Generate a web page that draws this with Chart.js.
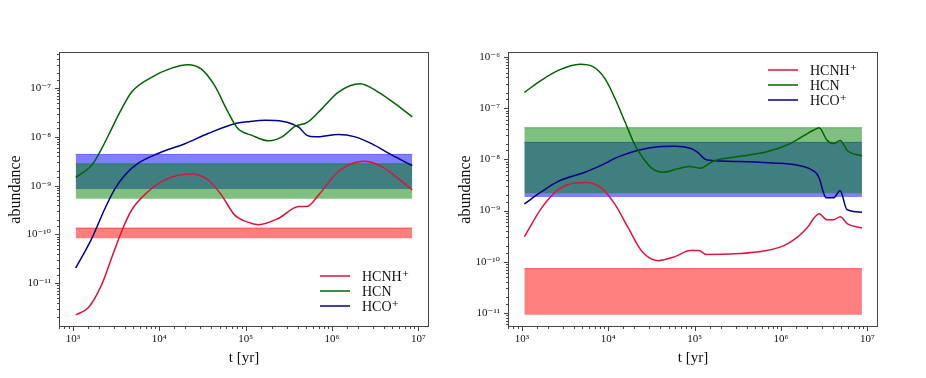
<!DOCTYPE html>
<html>
<head>
<meta charset="utf-8">
<script src="https://cdn.jsdelivr.net/npm/chart.js@4"></script>
<style>
body { margin: 0; background: #fff; width: 926px; height: 378px; position: relative; overflow: hidden; }
canvas { position: absolute; top: 0; }
</style>
</head>
<body>
<canvas id="leftPanel" width="450" height="378" style="left:0"></canvas>
<canvas id="rightPanel" width="476" height="378" style="left:450px"></canvas>
<script>
// species names (legend order)
const species = ['HCNH⁺', 'HCN', 'HCO⁺'];

// ---- left panel ----
const leftTimeHCNH = [1.08e3, 1.52e3, 2.16e3, 2.82e3, 3.67e3, 4.8e3, 7.46e3, 1.27e4, 2.36e4, 3.67e4, 5.24e4, 7.46e4, 1.06e5, 1.42e5, 2.42e5, 4.12e5, 5.14e5, 7.02e5, 1.19e6, 2.32e6, 3.77e6, 8.51e6];
const leftHCNH = [2.24e-12, 3.16e-12, 9.3e-12, 3.31e-11, 1.15e-10, 3.16e-10, 7.59e-10, 1.41e-9, 1.74e-9, 1.32e-9, 6.46e-10, 2.51e-10, 1.78e-10, 1.58e-10, 2.14e-10, 3.72e-10, 3.72e-10, 6.46e-10, 1.95e-9, 3.16e-9, 2.45e-9, 8.13e-10];
const leftTimeHCN = [1.08e3, 1.66e3, 2.16e3, 2.82e3, 3.52e3, 4.8e3, 8.15e3, 1.39e4, 2.16e4, 3.08e4, 4.39e4, 6.25e4, 8.15e4, 1.19e5, 1.86e5, 2.64e5, 3.78e5, 5.14e5, 7.66e5, 1.19e6, 2.12e6, 3.44e6, 5.37e6, 8.51e6];
const leftHCN = [1.48e-9, 2.63e-9, 5.75e-9, 1.48e-8, 3.24e-8, 8.3e-8, 1.66e-7, 2.57e-7, 3.02e-7, 2.45e-7, 1.12e-7, 3.24e-8, 1.48e-8, 1.07e-8, 8.3e-9, 1.0e-8, 1.66e-8, 1.95e-8, 3.8e-8, 8.3e-8, 1.23e-7, 8.3e-8, 4.8e-8, 2.57e-8];
const leftTimeHCO = [1.08e3, 1.66e3, 2.37e3, 3.08e3, 4.02e3, 5.73e3, 9.73e3, 1.98e4, 3.67e4, 7.46e4, 1.06e5, 1.70e5, 2.64e5, 4.12e5, 5.14e5, 6.41e5, 1.19e6, 1.86e6, 2.88e6, 4.91e6, 8.51e6];
const leftHCO = [2.04e-11, 8.3e-11, 3.47e-10, 8.7e-10, 1.66e-9, 2.88e-9, 4.57e-9, 7.24e-9, 1.17e-8, 1.86e-8, 2.04e-8, 2.19e-8, 2.09e-8, 1.58e-8, 1.07e-8, 1.0e-8, 1.12e-8, 1.0e-8, 7.24e-9, 4.27e-9, 2.57e-9];
// observed ranges [low, high]
const leftBandTime = [1.08e3, 8.51e6];
const leftBandHCNH = [8.3e-11, 1.35e-10];
const leftBandHCN = [5.4e-10, 2.8e-9];
const leftBandHCO = [8.5e-10, 4.37e-9];

// ---- right panel ----
const rightTimeHCNH = [1.07e3, 1.69e3, 2.64e3, 4.13e3, 5.62e3, 8.39e3, 1.20e4, 1.71e4, 2.44e4, 3.80e4, 5.93e4, 8.91e4, 1.11e5, 1.39e5, 3.38e5, 6.3e5, 1.07e6, 1.53e6, 2.0e6, 2.77e6, 3.40e6, 4.06e6, 4.85e6, 5.90e6, 8.67e6];
const rightHCNH = [3.09e-10, 1.12e-9, 2.57e-9, 3.47e-9, 3.55e-9, 2.75e-9, 1.32e-9, 4.57e-10, 1.62e-10, 1.05e-10, 1.26e-10, 1.66e-10, 1.66e-10, 1.38e-10, 1.45e-10, 1.62e-10, 2.04e-10, 2.95e-10, 4.57e-10, 8.71e-10, 6.61e-10, 6.61e-10, 7.59e-10, 5.5e-10, 4.57e-10];
const rightTimeHCN = [1.07e3, 1.69e3, 2.64e3, 4.72e3, 6.73e3, 9.18e3, 1.20e4, 1.56e4, 2.04e4, 2.55e4, 3.18e4, 4.35e4, 6.47e4, 8.91e4, 1.16e5, 1.66e5, 3.38e5, 6.89e5, 1.28e6, 1.91e6, 2.38e6, 2.77e6, 3.40e6, 4.06e6, 4.85e6, 5.90e6, 8.67e6];
const rightHCN = [2.04e-7, 3.55e-7, 5.5e-7, 7.24e-7, 6.46e-7, 3.8e-7, 1.55e-7, 5.5e-8, 1.91e-8, 1.05e-8, 6.76e-9, 5.62e-9, 6.61e-9, 7.24e-9, 6.76e-9, 9.33e-9, 1.15e-8, 1.41e-8, 2.04e-8, 3.02e-8, 3.72e-8, 4.17e-8, 2.4e-8, 2.04e-8, 2.34e-8, 1.48e-8, 1.17e-8];
const rightTimeHCO = [1.07e3, 1.69e3, 2.64e3, 5.38e3, 8.39e3, 1.31e4, 2.23e4, 3.80e4, 5.93e4, 8.91e4, 1.07e5, 1.39e5, 3.38e5, 8.2e5, 1.53e6, 2.08e6, 2.72e6, 3.34e6, 4.06e6, 4.85e6, 5.81e6, 8.67e6];
const rightHCO = [1.35e-9, 2.34e-9, 3.72e-9, 5.62e-9, 7.76e-9, 1.12e-8, 1.51e-8, 1.78e-8, 1.82e-8, 1.66e-8, 1.41e-8, 9.77e-9, 9.12e-9, 8.51e-9, 7.76e-9, 6.76e-9, 4.68e-9, 1.78e-9, 1.78e-9, 2.45e-9, 1.05e-9, 9.33e-10];
const rightBandTime = [1.07e3, 8.67e6];
const rightBandHCNH = [9.25e-12, 7.35e-11];
const rightBandHCN = [2.19e-9, 4.17e-8];
const rightBandHCO = [1.84e-9, 2.16e-8];

const lineColors = ['#dc143c', '#006400', '#00008b'];
const bandColors = ['rgba(255,0,0,0.5)', 'rgba(0,128,0,0.5)', 'rgba(0,0,255,0.5)'];
const serif = "'Liberation Serif', 'DejaVu Serif', serif";

Chart.defaults.font.family = serif;
Chart.defaults.color = '#111';

const supMap = {'-': '⁻', '0': '⁰', '1': '¹', '2': '²', '3': '³', '4': '⁴', '5': '⁵', '6': '⁶', '7': '⁷', '8': '⁸', '9': '⁹'};
function isPow10(v) {
    const l = Math.log10(v);
    return Math.abs(l - Math.round(l)) < 1e-6;
}
function powLabel(v) {
    if (!isPow10(v)) return '';
    return '10' + String(Math.round(Math.log10(v))).split('').map(c => supMap[c]).join('');
}
const pairs = (xs, ys) => xs.map((x, i) => ({x: x, y: ys[i]}));

// matplotlib-like frame and outward ticks
const frameTicks = {
    id: 'frameTicks',
    afterDraw(chart) {
        const {ctx, chartArea: a} = chart;
        const xs = chart.scales.x, ys = chart.scales.y;
        ctx.save();
        ctx.strokeStyle = '#444';
        ctx.lineWidth = 1;
        xs.ticks.forEach(t => {
            if (t.value <= xs.min || t.value >= xs.max) return;
            const px = Math.round(xs.getPixelForValue(t.value)) + 0.5;
            ctx.beginPath();
            ctx.moveTo(px, a.bottom);
            ctx.lineTo(px, a.bottom + (isPow10(t.value) ? 4 : 2));
            ctx.stroke();
        });
        ys.ticks.forEach(t => {
            if (t.value <= ys.min || t.value >= ys.max) return;
            const py = Math.round(ys.getPixelForValue(t.value)) + 0.5;
            ctx.beginPath();
            ctx.moveTo(a.left, py);
            ctx.lineTo(a.left - (isPow10(t.value) ? 4 : 2), py);
            ctx.stroke();
        });
        ctx.strokeRect(Math.round(a.left) + 0.5, Math.round(a.top) + 0.5, Math.round(a.right - a.left) - 1, Math.round(a.bottom - a.top) - 1);
        ctx.restore();
    }
};

// legend drawn inside the axes
const lineKey = {
    id: 'lineKey',
    afterDraw(chart, args, opts) {
        const {ctx, chartArea: a} = chart;
        const x0 = a.right + opts.dx;
        const y0 = (opts.corner === 'top' ? a.top : a.bottom) + opts.dy;
        ctx.save();
        ctx.font = '14px ' + serif;
        ctx.textBaseline = 'middle';
        chart.data.datasets.filter(d => !d.band).forEach((d, i) => {
            const y = y0 + i * 15;
            ctx.strokeStyle = d.borderColor;
            ctx.lineWidth = 1.5;
            ctx.beginPath();
            ctx.moveTo(x0, y);
            ctx.lineTo(x0 + 30, y);
            ctx.stroke();
            ctx.fillStyle = '#111';
            ctx.fillText(d.label, x0 + 42, y + 1);
        });
        ctx.restore();
    }
};

function makePanel(id, cfg) {
    const lines = cfg.series.map((s, i) => ({
        label: species[i],
        data: pairs(s[0], s[1]),
        borderColor: lineColors[i],
        borderWidth: 1.5,
        pointRadius: 0,
        cubicInterpolationMode: 'monotone',
        fill: false
    }));
    // green band drawn over blue band, red separate
    const bandOrder = [1, 2, 0];
    const bands = bandOrder.map(i => ({
        label: species[i] + ' obs',
        band: true,
        data: pairs(cfg.bandTime, [cfg.bands[i][1], cfg.bands[i][1]]),
        borderColor: bandColors[i],
        borderWidth: 1,
        backgroundColor: bandColors[i],
        pointRadius: 0,
        fill: {target: {value: cfg.bands[i][0]}, above: bandColors[i], below: bandColors[i]}
    }));
    new Chart(document.getElementById(id), {
        type: 'line',
        data: {datasets: lines.concat(bands)},
        plugins: [frameTicks, lineKey],
        options: {
            responsive: false,
            animation: false,
            devicePixelRatio: 1,
            layout: {padding: {left: 0, top: 52, right: cfg.padRight, bottom: 0}},
            plugins: {
                legend: {display: false},
                tooltip: {enabled: false},
                lineKey: cfg.key
            },
            scales: {
                x: {
                    type: 'logarithmic',
                    min: 692, max: 1.33e7,
                    afterFit: s => { s.height = 51; },
                    grid: {display: false, drawTicks: true, tickLength: 4},
                    border: {display: false},
                    ticks: {autoSkip: false, maxRotation: 0, padding: 2, font: {size: 11}, callback: v => powLabel(v)},
                    title: {display: true, text: 't [yr]', font: {size: 15}, padding: {top: 0, bottom: 11}}
                },
                y: {
                    type: 'logarithmic',
                    min: cfg.yMin, max: cfg.yMax,
                    afterFit: s => { s.width = cfg.yWidth; },
                    grid: {display: false, drawTicks: true, tickLength: 4},
                    border: {display: false},
                    ticks: {autoSkip: false, padding: 4, font: {size: 11}, callback: v => powLabel(v)},
                    title: {display: true, text: 'abundance', font: {size: 16}, padding: {top: 6, bottom: 0}}
                }
            }
        }
    });
}

makePanel('leftPanel', {
    series: [[leftTimeHCNH, leftHCNH], [leftTimeHCN, leftHCN], [leftTimeHCO, leftHCO]],
    bandTime: leftBandTime,
    bands: [leftBandHCNH, leftBandHCN, leftBandHCO],
    yMin: 1.26e-12, yMax: 5.5e-7,
    yWidth: 59, padRight: 21,
    key: {corner: 'bottom', dx: -109, dy: -51}
});

makePanel('rightPanel', {
    series: [[rightTimeHCNH, rightHCNH], [rightTimeHCN, rightHCN], [rightTimeHCO, rightHCO]],
    bandTime: rightBandTime,
    bands: [rightBandHCNH, rightBandHCN, rightBandHCO],
    yMin: 5.3e-12, yMax: 1.26e-6,
    yWidth: 58, padRight: 48,
    key: {corner: 'top', dx: -110, dy: 18}
});
</script>
</body>
</html>
